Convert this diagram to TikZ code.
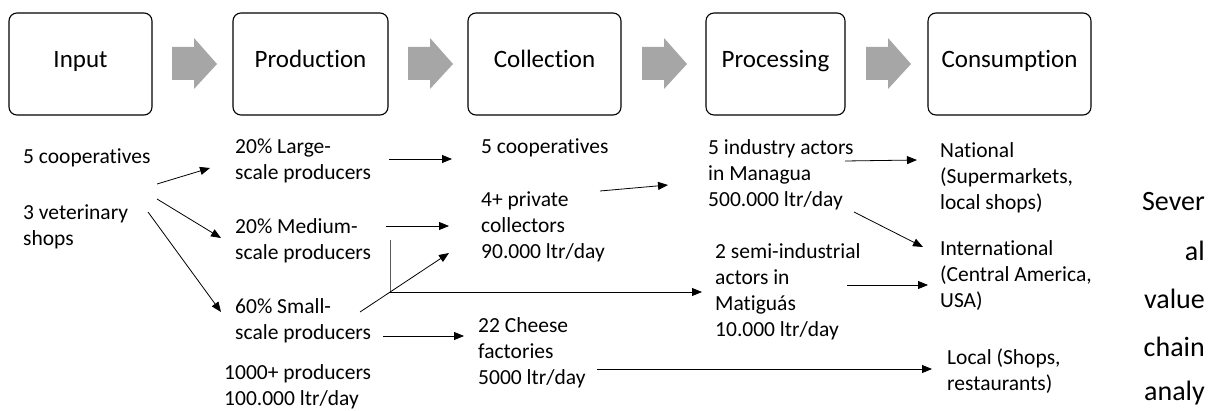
\documentclass[tikz,border=0pt]{standalone}
\usepackage{fontspec}
\setmainfont{Carlito}[Ligatures=NoCommon]
\usetikzlibrary{arrows.meta}
\definecolor{arrowgray}{RGB}{166,166,166}
\definecolor{linegray}{RGB}{90,90,90}
\begin{document}
\begin{tikzpicture}[x=1pt,y=-1pt,
  stagebox/.style={draw, line width=1.1pt, rounded corners=8pt, minimum height=102pt, inner sep=0pt, text height=0.84em, text depth=0.2em, font=\fontsize{25}{30}\selectfont},
  lbl/.style={anchor=west, align=left, inner sep=0pt, font=\fontsize{21.5}{26}\selectfont},
  side/.style={anchor=east, inner sep=0pt, text height=0.84em, text depth=0.2em, font=\fontsize{28}{30}\selectfont},
  link/.style={line width=0.8pt, -{Triangle[length=10pt,width=8pt]}},
  plain/.style={line width=0.8pt, draw=linegray},
  blockarrow/.style={fill=arrowgray}]
\clip (0,0) rectangle (1209,411);
% stage boxes
\node[stagebox, minimum width=143pt] (input) at (80.5,64) {Input};
\node[stagebox, minimum width=155pt] (prod) at (310.5,64) {Production};
\node[stagebox, minimum width=153pt] (coll) at (544.5,64) {Collection};
\node[stagebox, minimum width=139pt] (proc) at (775.5,64) {Processing};
\node[stagebox, minimum width=163pt] (cons) at (1009.5,64) {Consumption};
% gray block arrows
\foreach \x in {172,408,642,866}{
  \fill[blockarrow] (\x,47) -- (\x+22,47) -- (\x+22,38) -- (\x+45,64) -- (\x+22,89) -- (\x+22,80) -- (\x,80) -- cycle;
}
% input column
\node[lbl] (coop) at (23,158) {5 cooperatives};
\node[lbl] (vet) at (23,227) {3 veterinary\\shops};
% production column
\node[lbl] (large) at (235,161) {20\% Large-\\scale producers};
\node[lbl] (medium) at (235,241) {20\% Medium-\\scale producers};
\node[lbl] (small) at (235,321) {60\% Small-\\scale producers};
\node[lbl] (total) at (224,387) {1000+ producers\\100.000 ltr/day};
% collection column
\node[lbl] (coop2) at (481,148) {5 cooperatives};
\node[lbl] (priv) at (481,227) {4+ private\\collectors\\90.000 ltr/day};
\node[lbl] (cheese) at (478,353) {22 Cheese\\factories\\5000 ltr/day};
% processing column
\node[lbl] (mana) at (708,175) {5 industry actors\\in Managua\\500.000 ltr/day};
\node[lbl] (semi) at (715,292) {2 semi-industrial\\actors in\\Matiguás\\10.000 ltr/day};
% consumption column
\node[lbl] (nat) at (940,178) {National\\(Supermarkets,\\local shops)};
\node[lbl] (intl) at (940,276) {International\\(Central America,\\USA)};
\node[lbl] (local) at (947,371) {Local (Shops,\\restaurants)};
% side text
\node[side] (s1) at (1205,207) {Sever};
\node[side] (s2) at (1205,257) {al};
\node[side] (s3) at (1205,305) {value};
\node[side] (s4) at (1205,353) {chain};
\node[side] (s5) at (1205,397) {analy};
% connector end points
\coordinate (a1s) at (157,184); \coordinate (a1e) at (210,168);
\coordinate (a2s) at (157,199); \coordinate (a2e) at (221,238);
\coordinate (a3s) at (148,212); \coordinate (a3e) at (221,312);
\coordinate (b1s) at (389,159); \coordinate (b1e) at (452,159);
\coordinate (b2s) at (386,226); \coordinate (b2e) at (449,226);
\coordinate (vtop) at (390,240); \coordinate (junc) at (390,292);
\coordinate (b3e) at (702,292);
\coordinate (b4s) at (360,312); \coordinate (b4e) at (449,253);
\coordinate (b5s) at (383,336); \coordinate (b5e) at (464,336);
\coordinate (c1s) at (600,191); \coordinate (c1e) at (668,185);
\coordinate (c2s) at (597,369); \coordinate (c2e) at (932,369);
\coordinate (d1s) at (845,161); \coordinate (d1e) at (917,160);
\coordinate (d2s) at (854,212); \coordinate (d2e) at (923,247);
\coordinate (d3s) at (847,285); \coordinate (d3e) at (928,285);
% connectors
\draw[link] (a1s) -- (a1e);
\draw[link] (a2s) -- (a2e);
\draw[link] (a3s) -- (a3e);
\draw[link] (b1s) -- (b1e);
\draw[link] (b2s) -- (b2e);
\draw[plain] (vtop) -- (junc);
\draw[link] (junc) -- (b3e);
\draw[link] (b4s) -- (b4e);
\draw[link] (b5s) -- (b5e);
\draw[link] (c1s) -- (c1e);
\draw[link] (c2s) -- (c2e);
\draw[link] (d1s) -- (d1e);
\draw[link] (d2s) -- (d2e);
\draw[link] (d3s) -- (d3e);
\end{tikzpicture}
\end{document}
